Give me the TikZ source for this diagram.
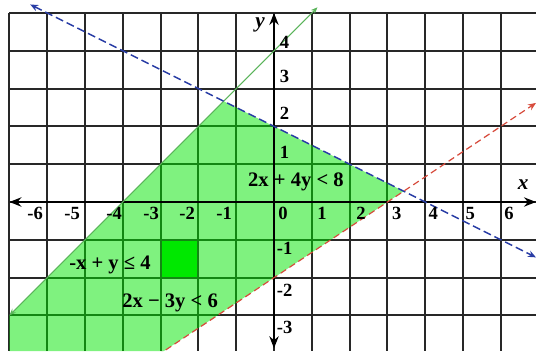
\documentclass[tikz,border=0pt]{standalone}
\usepackage{fontspec}
\setmainfont{Liberation Serif}
\usetikzlibrary{arrows.meta}
\definecolor{gridc}{RGB}{40,40,40}
\definecolor{regionc}{RGB}{0,230,0}
\definecolor{squarec}{RGB}{0,235,0}
\definecolor{bluel}{RGB}{40,60,165}
\definecolor{redl}{RGB}{215,75,60}
\definecolor{greenl}{RGB}{90,180,90}
\tikzset{
  gridline/.style={gridc, line width=1.6pt},
  axisline/.style={black, line width=2.2pt, {Stealth[length=9pt,width=7pt]}-{Stealth[length=9pt,width=7pt]}},
  numlbl/.style={font=\fontsize{14}{16}\selectfont\bfseries, inner sep=0pt},
  eqlbl/.style={font=\fontsize{15.5}{17}\selectfont\bfseries, inner sep=0pt},
  axlbl/.style={font=\fontsize{16}{18}\selectfont\bfseries\itshape, inner sep=0pt},
  bdash/.style={bluel, line width=1.1pt, dash pattern=on 6pt off 3pt, {Stealth[length=6pt,width=5pt]}-{Stealth[length=6pt,width=5pt]}},
  rdash/.style={redl, line width=0.9pt, dash pattern=on 5pt off 3pt, -{Stealth[length=6pt,width=5pt]}},
  gsolid/.style={greenl, line width=0.8pt, {Stealth[length=5pt,width=4pt]}-{Stealth[length=5pt,width=4pt]}}
}
\begin{document}
\begin{tikzpicture}[x=1cm,y=1cm]
\path[fill=white,use as bounding box] (-7.249,-3.942) rectangle (6.931,5.344);
% bright square
\fill[squarec] (-3,-2) rectangle (-2,-1);
% grid
\foreach \i in {-7,...,6} \draw[gridline] (\i,5) -- (\i,-3.942);
\foreach \j in {-3,...,5} \draw[gridline] (-7,\j) -- (6.931,\j);
% region
\begin{scope}
\clip (-7,-3.942) rectangle (6.931,5);
\fill[regionc, fill opacity=0.5] (-7,-3) -- (-4/3,8/3) -- (24/7,2/7) -- (-2.913,-3.942) -- (-7,-3.942) -- cycle;
\end{scope}
% axes
\coordinate (xl) at (-7,0);
\coordinate (xr) at (6.931,0);
\coordinate (yb) at (0,-3.87);
\coordinate (yt) at (0,5.0);
\draw[axisline] (xl) -- (xr);
\draw[axisline] (yb) -- (yt);
% boundary lines
\coordinate (g1) at (-7,-3);
\coordinate (g2) at (1.15,5.15);
\coordinate (b1) at (-6.45,5.225);
\coordinate (b2) at (6.93,-1.465);
\coordinate (r1) at (-3.1,-4.07);
\coordinate (r2) at (6.93,2.62);
\begin{scope}
\clip (-7.249,-3.942) rectangle (6.931,5.344);
\draw[gsolid] (g1) -- (g2);
\draw[bdash] (b1) -- (b2);
\draw[rdash] (r1) -- (r2);
\end{scope}
% number labels
\foreach \t/\p [count=\k] in {-6/-6.32,-5/-5.34,-4/-4.23,-3/-3.25,-2/-2.30,-1/-1.32,0/0.24,1/1.27,2/2.30,3/3.25,4/4.21,5/5.19,6/6.22}
  \node[numlbl] (xn\k) at (\p,-0.3) {\t};
\foreach \t/\p [count=\k] in {4/4.21,3/3.33,2/2.35,1/1.30,-1/-1.22,-2/-2.33,-3/-3.33}
  \node[numlbl] (yn\k) at (0.28,\p) {\t};
\node[axlbl] (ylab) at (-0.37,4.68) {y};
\node[axlbl] (xlab) at (6.59,0.45) {x};
\node[eqlbl] (e1) at (0.58,0.53) {2x + 4y {<} 8};
\node[eqlbl] (e2) at (-4.34,-1.67) {-x + y ≤ 4};
\node[eqlbl] (e3) at (-2.75,-2.67) {2x − 3y {<} 6};
\end{tikzpicture}
\end{document}
